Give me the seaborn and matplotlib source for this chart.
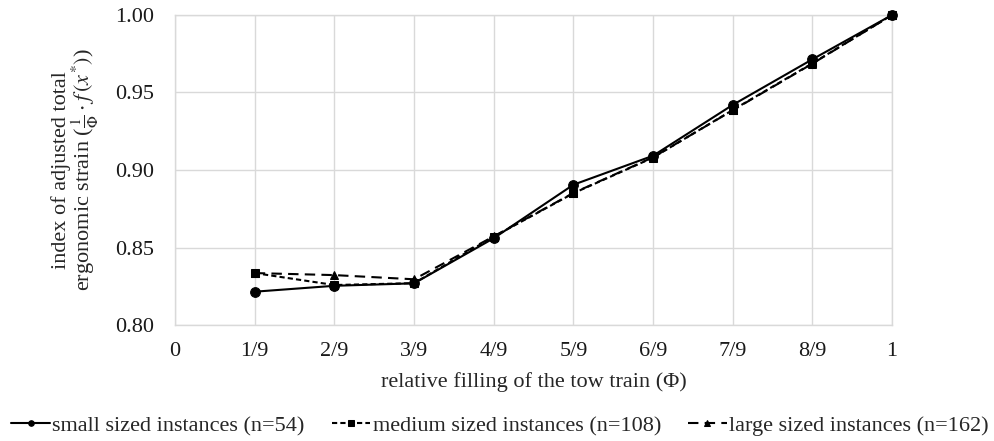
import numpy as np
import pandas as pd
import matplotlib
matplotlib.use("Agg")
import matplotlib.pyplot as plt
import seaborn as sns

# ---- data ----
x_ticklabels = ["0", "1/9", "2/9", "3/9", "4/9", "5/9", "6/9", "7/9", "8/9", "1"]
phi_steps = [1, 2, 3, 4, 5, 6, 7, 8, 9]  # numerator over 9
small = [0.8215, 0.8253, 0.8269, 0.8560, 0.8905, 0.9092, 0.9420, 0.9714, 1.000]
medium = [0.8335, 0.8258, 0.8270, 0.8570, 0.8850, 0.9080, 0.9387, 0.9688, 1.000]
large = [0.8335, 0.8322, 0.8295, 0.8572, 0.8852, 0.9082, 0.9385, 0.9686, 1.000]
labels = ["small sized instances (n=54)",
          "medium sized instances (n=108)",
          "large sized instances (n=162)"]

sns.set_style("white")
plt.rcParams["font.family"] = ["Liberation Serif", "DejaVu Serif"]
plt.rcParams["mathtext.fontset"] = "stix"

fig = plt.figure(figsize=(9.95, 4.41), dpi=100)
ax = fig.add_axes([0.176, 0.263, 0.7205, 0.703])

xs = np.array(phi_steps) / 9.0
df = pd.DataFrame({"phi": xs, "small": small, "medium": medium, "large": large})

sns.lineplot(data=df, x="phi", y="large", ax=ax, color="black", lw=1.5,
             linestyle=(0, (5, 3)), marker="^", markersize=6, markeredgecolor="black",
             label=labels[2], zorder=3, clip_on=False)
sns.lineplot(data=df, x="phi", y="small", ax=ax, color="black", lw=1.5,
             linestyle="-", marker="o", markersize=7, markeredgecolor="black",
             label=labels[0], zorder=4, clip_on=False)
sns.lineplot(data=df, x="phi", y="medium", ax=ax, color="black", lw=1.5,
             linestyle=(0, (2.5, 1.5)), marker="s", markersize=6, markeredgecolor="black",
             label=labels[1], zorder=5, clip_on=False)

gridc = "#d9d9d9"
ax.set_xlim(0, 1)
ax.set_ylim(0.80, 1.00)
ax.set_xticks(np.arange(0, 10) / 9.0)
ax.set_xticklabels(x_ticklabels)
ax.set_yticks([0.80, 0.85, 0.90, 0.95, 1.00])
ax.set_yticklabels(["0.80", "0.85", "0.90", "0.95", "1.00"])
ax.grid(True, color=gridc, lw=1)
ax.set_axisbelow(True)
for s in ax.spines.values():
    s.set_color(gridc)
    s.set_linewidth(1)
ax.tick_params(axis="both", direction="out", length=5, color=gridc, width=1,
               labelsize=16, labelcolor="#1a1a1a")
ax.tick_params(axis="y", pad=10)
ax.tick_params(axis="x", pad=7)

ax.set_xlabel("relative filling of the tow train (Φ)", fontsize=16, labelpad=8)
ax.set_ylabel("index of adjusted total\nergonomic strain ($\\frac{1}{\\Phi}\\cdot f\\,(x^{*})$)",
              fontsize=16, labelpad=10, linespacing=0.95)

handles, labs = ax.get_legend_handles_labels()
order = [labs.index(l) for l in labels]
leg = ax.legend([handles[i] for i in order], [labs[i] for i in order],
                loc="center", bbox_to_anchor=(0.453, -0.325), ncol=3, frameon=False,
                fontsize=16, handlelength=1.75, handletextpad=0.1, columnspacing=1.2,
                borderaxespad=0)
for h in leg.legend_handles:
    h.set_markersize(4)

fig.savefig("out.png", dpi=100)
